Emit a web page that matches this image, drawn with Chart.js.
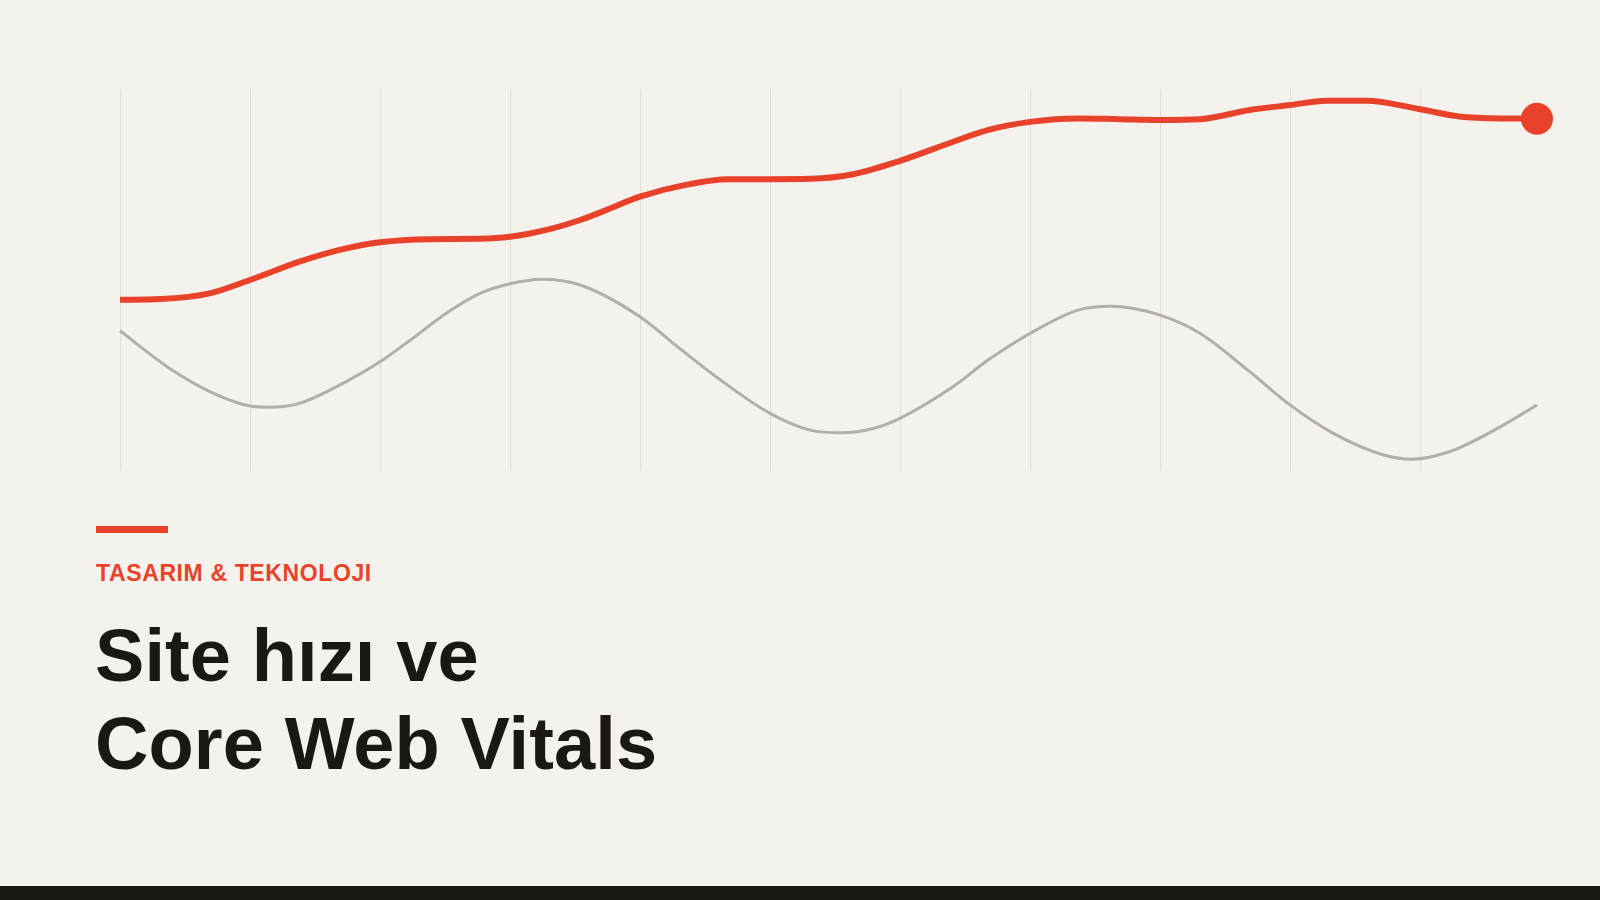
<!DOCTYPE html>
<html lang="tr">
<head>
<meta charset="utf-8">
<script src="https://cdn.jsdelivr.net/npm/chart.js@4/dist/chart.umd.min.js"></script>
<style>
  html, body { margin: 0; padding: 0; }
  body { width: 1600px; height: 900px; background: #f5f2ed; position: relative; overflow: hidden;
         font-family: "Liberation Sans", Arial, sans-serif; }
  #chart { position: absolute; left: 0; top: 0; }
  .accent { position: absolute; left: 96px; top: 526px; width: 72px; height: 7px; background: #e8432a; }
  .kicker { position: absolute; left: 96px; top: 562px; font-size: 23px; line-height: 23px; font-weight: 700;
            color: #e8432a; letter-spacing: 0.62px; white-space: nowrap; }
  .title { position: absolute; left: 95px; top: 612px; font-size: 74px; line-height: 88.3px; font-weight: 700;
           color: #1b1712; letter-spacing: 0.1px; margin: 0; white-space: nowrap; }
  .footer { position: absolute; left: 0; top: 886px; width: 1600px; height: 14px; background: #1b1712; }
</style>
</head>
<body>
<canvas id="chart" width="1600" height="500"></canvas>
<div class="accent"></div>
<div class="kicker">TASARIM &amp; TEKNOLOJI</div>
<h1 class="title">Site hızı ve<br>Core Web Vitals</h1>
<div class="footer"></div>
<script>
// Main (red) series: x positions and values
const redX = [0, 0.31, 0.69, 1.0, 1.38, 1.69, 2.0, 2.38, 2.77, 3.0, 3.28, 3.54, 3.71, 4.0, 4.35, 4.68,
              5.0, 5.31, 5.64, 6.0, 6.41, 6.68, 7.0, 7.37, 7.69, 8.0, 8.31, 8.69, 9.0, 9.28, 9.59,
              10.0, 10.36, 10.9];
const redValues = [44.8, 45.0, 46.5, 50.0, 54.8, 57.9, 59.9, 60.7, 60.8, 61.3, 63.1, 65.7, 67.9, 71.8, 74.9, 76.4,
                   76.4, 76.5, 77.7, 81.2, 86.2, 89.3, 91.4, 92.3, 92.1, 91.9, 92.1, 94.5, 95.8, 96.9, 96.9,
                   94.7, 92.6, 92.2];
// Secondary (grey) series
const greyX = [0, 0.38, 0.72, 1.0, 1.15, 1.38, 1.74, 2.0, 2.25, 2.51, 2.77, 3.0, 3.24, 3.54, 4.0, 4.29, 4.62,
               5.0, 5.31, 5.55, 5.8, 6.0, 6.41, 6.68, 7.0, 7.37, 7.62, 8.0, 8.31, 8.69, 9.0, 9.33, 9.72,
               9.94, 10.23, 10.62, 10.9];
const greyValues = [36.7, 26.9, 20.3, 17.0, 16.7, 17.7, 23.4, 28.6, 34.7, 41.3, 46.5, 49.0, 50.2, 48.7, 40.4, 32.5, 23.8,
                    15.1, 10.7, 10.0, 11.2, 13.8, 22.1, 29.1, 36.0, 42.1, 43.1, 40.8, 36.0, 26.0, 17.3, 9.9, 4.2,
                    3.1, 5.1, 11.6, 17.3];
// Axis extents
const xMin = 0, xMax = 10.9, xStep = 1;
const yMin = 0, yMax = 100;

const RED = '#e8432a', GREY = '#b2aea8', GRID = '#e0dcd6';

const toPts = (xs, ys) => xs.map((x, i) => ({ x: x, y: ys[i] }));

// Keep the plot area at a fixed place inside the canvas
const plotArea = { left: 120, top: 89, right: 1537, bottom: 471 };
const pinArea = {
  id: 'pinArea',
  afterLayout(chart) {
    const a = chart.chartArea;
    a.left = plotArea.left; a.top = plotArea.top; a.right = plotArea.right; a.bottom = plotArea.bottom;
    a.width = a.right - a.left; a.height = a.bottom - a.top;
    const x = chart.scales.x, y = chart.scales.y;
    x.left = a.left; x.right = a.right; x.width = a.width;
    x.top = a.bottom; x.bottom = a.bottom;
    y.top = a.top; y.bottom = a.bottom; y.height = a.height;
    x.configure(); y.configure();
  }
};

new Chart(document.getElementById('chart'), {
  type: 'line',
  plugins: [pinArea],
  data: {
    datasets: [
      {
        data: toPts(redX, redValues),
        borderColor: RED,
        backgroundColor: RED,
        borderWidth: 6,
        cubicInterpolationMode: 'monotone',
        pointRadius: ctx => ctx.dataIndex === redX.length - 1 ? 16 : 0,
        pointBorderWidth: 0,
        pointHoverRadius: 0,
        clip: false,
        order: 0
      },
      {
        data: toPts(greyX, greyValues),
        borderColor: GREY,
        borderWidth: 3,
        cubicInterpolationMode: 'monotone',
        pointRadius: 0,
        pointHoverRadius: 0,
        clip: false,
        order: 1
      }
    ]
  },
  options: {
    responsive: false,
    animation: false,
    events: [],
    layout: { padding: { left: 120, top: 89, right: 63, bottom: 1 } },
    plugins: { legend: { display: false }, tooltip: { enabled: false } },
    scales: {
      x: {
        type: 'linear', min: xMin, max: xMax,
        ticks: { display: false, stepSize: xStep },
        grid: {
          drawTicks: false,
          lineWidth: 1,
          color: ctx => (ctx.tick && Math.abs(ctx.tick.value - Math.round(ctx.tick.value)) < 1e-6) ? GRID : 'rgba(0,0,0,0)'
        },
        border: { display: false }
      },
      y: {
        type: 'linear', min: yMin, max: yMax,
        display: false
      }
    }
  }
});
</script>
</body>
</html>
